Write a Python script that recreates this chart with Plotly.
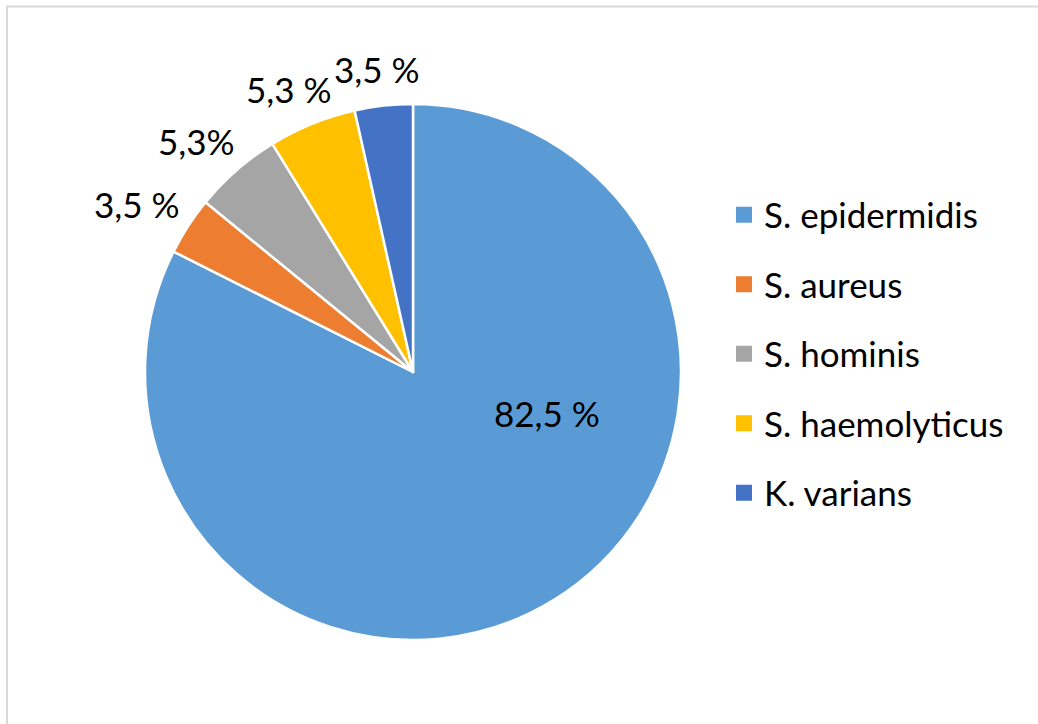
import math
import plotly.graph_objects as go

labels = ["S. epidermidis", "S. aureus", "S. hominis", "S. haemolyticus", "K. varians"]
values = [82.5, 3.5, 5.3, 5.3, 3.5]
text_labels = ["82,5 %", "3,5 %", "5,3%", "5,3 %", "3,5 %"]
colors = ["#5B9BD5", "#ED7D31", "#A5A5A5", "#FFC000", "#4472C4"]
outside = [False, True, True, True, True]

FONT = "Lato"
FS = 35
W, H = 1038, 724
cx, cy, r = 413, 372, 268  # pie centre / radius in pixels

fig = go.Figure()
fig.add_trace(go.Pie(
    labels=labels, values=values, text=text_labels,
    textinfo="none",
    sort=False, direction="clockwise", rotation=0,
    marker=dict(colors=colors, line=dict(color="white", width=2.5)),
    showlegend=False, hoverinfo="label+text",
    domain=dict(x=[(cx - r) / W, (cx + r) / W], y=[(H - cy - r) / H, (H - cy + r) / H]),
))

# data labels, placed from the slice mid-angles computed from the values
annotations = []
total = sum(values)
cum = 0.0
for val, txt, out in zip(values, text_labels, outside):
    mid = (cum + val / 2) / total * 2 * math.pi  # clockwise from 12 o'clock
    cum += val
    ux, uy = math.sin(mid), math.cos(mid)
    if out:
        d = r + 15
        px, py = cx + ux * d, cy - uy * d
        annotations.append(dict(
            x=px / W, y=1 - py / H, xref="paper", yref="paper",
            text=txt, showarrow=False, xanchor="center", yanchor="middle",
            xshift=ux * 46, yshift=uy * 17 + 5,
            font=dict(family=FONT, size=FS, color="black"),
        ))
    else:
        annotations.append(dict(
            x=547 / W, y=1 - 413 / H, xref="paper", yref="paper",
            text=txt, showarrow=False, xanchor="center", yanchor="middle",
            font=dict(family=FONT, size=FS, color="black"),
        ))

# legend entries (one group each so spacing can match the reference)
for i, (lab, col) in enumerate(zip(labels, colors)):
    fig.add_trace(go.Scatter(
        x=[None], y=[None], mode="markers", name=lab,
        marker=dict(symbol="square", size=16, color=col),
        legendgroup=f"g{i}", showlegend=True, hoverinfo="skip",
    ))

fig.update_layout(
    width=W, height=H,
    margin=dict(l=0, r=0, t=0, b=0),
    paper_bgcolor="white", plot_bgcolor="white",
    xaxis=dict(visible=False), yaxis=dict(visible=False),
    font=dict(family=FONT, color="black"),
    annotations=annotations,
    legend=dict(
        x=724 / W, xanchor="left", y=(H - 354) / H, yanchor="middle",
        font=dict(family=FONT, size=FS, color="black"),
        tracegroupgap=21, bgcolor="rgba(0,0,0,0)",
        itemclick=False, itemdoubleclick=False,
    ),
    shapes=[dict(type="rect", xref="paper", yref="paper",
                 x0=7 / W, x1=1.2, y0=-0.2, y1=1 - 6.5 / H,
                 line=dict(color="#D9D9D9", width=2), fillcolor="rgba(0,0,0,0)",
                 layer="below")],
)

fig.write_html("out.html")
